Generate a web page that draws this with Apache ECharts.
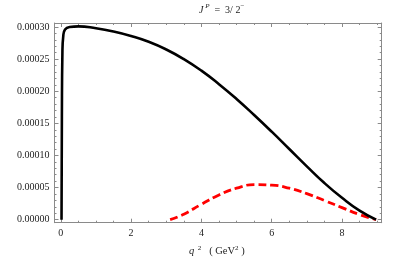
<!DOCTYPE html>
<html><head><meta charset="utf-8">
<script src="https://cdn.jsdelivr.net/npm/echarts@6/dist/echarts.min.js"></script>
<style>html,body{margin:0;padding:0;background:#fff}#c{width:399px;height:260px}</style>
</head><body><div id="c"></div>
<script>
// Data
var blackX = [0.02, 0.03, 0.045, 0.07, 0.12, 0.25, 0.5, 1.0, 1.5, 2.0, 2.5, 3.0, 3.5, 4.0, 4.5, 5.0, 5.5, 6.0, 6.5, 7.0, 7.5, 8.0, 8.5, 8.97];
var blackY = [0, 0.00016, 0.00026, 0.000286, 0.000296, 0.0003, 0.000301, 0.000298, 0.000293, 0.000286, 0.000277, 0.000265, 0.00025, 0.000232, 0.000211, 0.000188, 0.000163, 0.000137, 0.00011, 0.000083, 0.000057, 0.000034, 0.000014, 0];
var redX = [3.11, 3.5, 4.0, 4.5, 5.0, 5.5, 6.0, 6.5, 7.0, 7.5, 8.0, 8.5, 8.97];
var redY = [0, 0.0000085, 0.000024, 0.0000385, 0.000049, 0.0000545, 0.0000538, 0.000049, 0.0000405, 0.0000298, 0.0000188, 0.000008, 0];
var xMajor = [0, 2, 4, 6, 8];
var xMinor = [0.5, 1, 1.5, 2.5, 3, 3.5, 4.5, 5, 5.5, 6.5, 7, 7.5, 8.5, 9];
var yMajor = [0, 0.00005, 0.0001, 0.00015, 0.0002, 0.00025, 0.0003];
var yMinor = [0.00001, 0.00002, 0.00003, 0.00004, 0.00006, 0.00007, 0.00008, 0.00009, 0.00011, 0.00012, 0.00013, 0.00014, 0.00016, 0.00017, 0.00018, 0.00019, 0.00021, 0.00022, 0.00023, 0.00024, 0.00026, 0.00027, 0.00028, 0.00029];

function pairs(xs, ys) { return xs.map(function (x, i) { return [x, ys[i]]; }); }

var XMIN = -0.18, XMAX = 9.13, YMIN = -0.0000047, YMAX = 0.0003062;
var frameColor = '#8a8a8a';
var font = 'Liberation Serif';

function xAx(pos, vals, len, labels, line) {
  return {
    type: 'value', position: pos, min: XMIN, max: XMAX,
    splitLine: { show: false },
    axisLine: { show: line, onZero: false, lineStyle: { color: frameColor, width: 1 } },
    axisTick: { show: true, inside: true, length: len, customValues: vals, lineStyle: { color: frameColor, width: 1 } },
    axisLabel: labels ? { show: true, customValues: vals, margin: 6, color: '#222', fontFamily: font, fontSize: 10, formatter: function (v) { return String(Math.round(v)); } } : { show: false }
  };
}
function yAx(pos, vals, len, labels, line) {
  return {
    type: 'value', position: pos, min: YMIN, max: YMAX,
    splitLine: { show: false },
    axisLine: { show: line, onZero: false, lineStyle: { color: frameColor, width: 1 } },
    axisTick: { show: true, inside: true, length: len, customValues: vals, lineStyle: { color: frameColor, width: 1 } },
    axisLabel: labels ? { show: true, customValues: vals, margin: 5, color: '#222', fontFamily: font, fontSize: 10, formatter: function (v) { return v.toFixed(5); } } : { show: false }
  };
}

var chart = echarts.init(document.getElementById('c'), null, { renderer: 'canvas' });
chart.setOption({
  animation: false,
  backgroundColor: '#fff',
  grid: { left: 54.5, right: 17.3, top: 23, bottom: 37.3, containLabel: false },
  graphic: [{
    type: 'text', left: 199, top: 3,
    style: {
      text: '{i|J}{s| P}{n|  =  3/ 2}{m|−}',
      rich: {
        i: { fontFamily: font, fontStyle: 'italic', fontSize: 10, fill: '#222', verticalAlign: 'bottom', lineHeight: 12 },
        n: { fontFamily: font, fontSize: 10, fill: '#222', verticalAlign: 'bottom', lineHeight: 12 },
        s: { fontFamily: font, fontStyle: 'italic', fontSize: 7, fill: '#222', verticalAlign: 'top', lineHeight: 12 },
        m: { fontFamily: font, fontSize: 7, fill: '#222', verticalAlign: 'top', lineHeight: 12 }
      }
    }
  }, {
    type: 'text', left: 189, top: 245,
    style: {
      text: '{i|q}{s|  2}{n|   ( GeV}{s|2}{n| )}',
      rich: {
        i: { fontFamily: font, fontStyle: 'italic', fontSize: 10.5, fill: '#222', verticalAlign: 'bottom', lineHeight: 12 },
        n: { fontFamily: font, fontSize: 10.5, fill: '#222', verticalAlign: 'bottom', lineHeight: 12 },
        s: { fontFamily: font, fontSize: 7, fill: '#222', verticalAlign: 'top', lineHeight: 12 }
      }
    }
  }],
  xAxis: [
    xAx('bottom', xMajor, 4, true, true),
    xAx('bottom', xMinor, 2, false, false),
    xAx('top', xMajor, 4, false, true),
    xAx('top', xMinor, 2, false, false)
  ],
  yAxis: [
    yAx('left', yMajor, 4, true, true),
    yAx('left', yMinor, 2, false, false),
    yAx('right', yMajor, 4, false, true),
    yAx('right', yMinor, 2, false, false)
  ],
  series: [
    {
      type: 'line', xAxisIndex: 0, yAxisIndex: 0, data: pairs(blackX, blackY),
      showSymbol: false, smooth: 0.5,
      lineStyle: { color: '#000', width: 2.6 }, z: 3
    },
    {
      type: 'line', xAxisIndex: 0, yAxisIndex: 0, data: pairs(redX, redY),
      showSymbol: false, smooth: 0.5,
      lineStyle: { color: '#ff0000', width: 2.8, type: [8, 4] }, z: 2
    }
  ]
});
</script>
</body></html>
